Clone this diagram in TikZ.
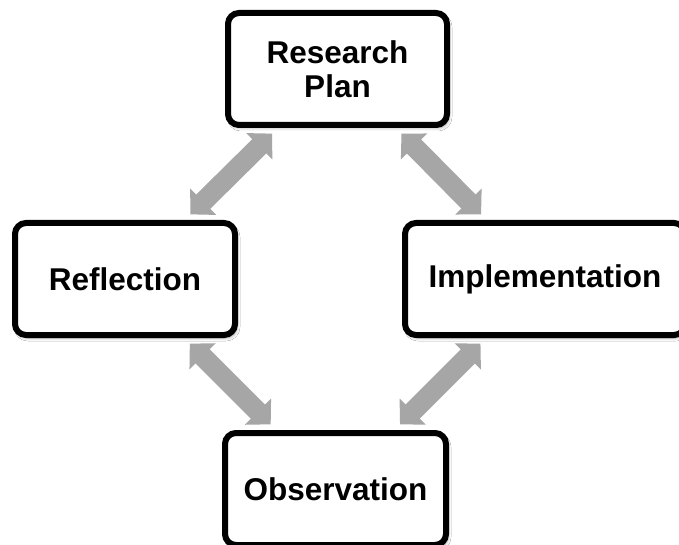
\documentclass[tikz,border=0pt]{standalone}
\usepackage{fontspec}
\setmainfont{Liberation Sans}
\usetikzlibrary{arrows.meta,shadows.blur}
\definecolor{arrowgray}{RGB}{166,166,166}
\begin{document}
\begin{tikzpicture}[x=1pt,y=-1pt,
  stage/.style={draw=black, line width=6pt, rounded corners=11pt, fill=white,
    align=center, font=\fontsize{31.5}{34}\selectfont\bfseries,
    minimum width=#1, minimum height=112pt, inner sep=0pt,
    blur shadow={shadow xshift=2pt,shadow yshift=-3pt,shadow blur radius=3pt,shadow opacity=35}},
  link/.style={draw=arrowgray, line width=20pt,
    {Triangle[width=36pt,length=18pt]}-{Triangle[width=36pt,length=18pt]},
    shorten <=8pt, shorten >=8pt}]
\useasboundingbox (0,0) rectangle (679,545);
\clip (0,0) rectangle (679,545);
\fill[white] (0,0) rectangle (679,545);
\node[stage=219pt] (rp) at (337.5,69) {Research\\Plan};
\node[stage=220pt] (refl) at (125,279) {Reflection};
\node[stage=280pt] (impl) at (545,279) {Implementation};
\node[stage=221pt] (obs) at (335.5,489) {Observation};
\draw[link] (rp) -- (refl);
\draw[link] (rp) -- (impl);
\draw[link] (refl) -- (obs);
\draw[link] (impl) -- (obs);
\end{tikzpicture}
\end{document}
